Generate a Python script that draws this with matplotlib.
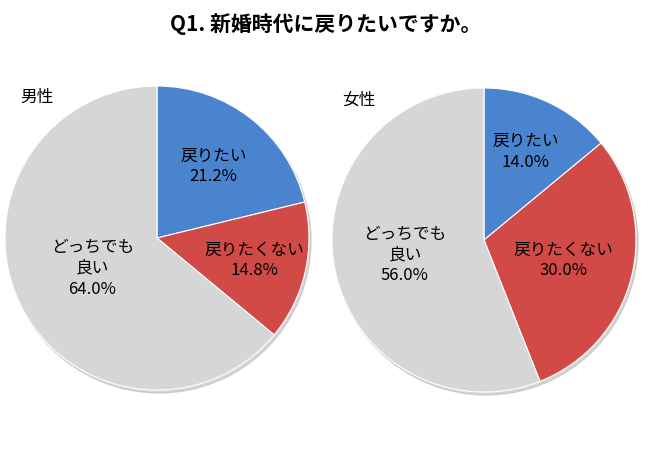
import matplotlib.pyplot as plt
import numpy as np
from matplotlib.patches import Circle

plt.rcParams['font.family'] = ['Noto Sans CJK JP', 'DejaVu Sans']

# データ
categories = ['戻りたい', '戻りたくない', 'どっちでも\n良い']
male = [21.2, 14.8, 64.0]
female = [14.0, 30.0, 56.0]
groups = ['男性', '女性']

colors = ['#4a84cf', '#d24a47', '#d6d6d6']

fig = plt.figure(figsize=(6.5, 4.7), dpi=100)
ax = fig.add_axes([0, 0, 1, 1])
ax.set_xlim(0, 650)
ax.set_ylim(0, 470)
ax.set_aspect('equal')
ax.axis('off')

ax.text(326, 446, 'Q1. 新婚時代に戻りたいですか。', ha='center', va='center',
        fontsize=15, fontweight='bold')

# 円グラフの位置と大きさ
centers = [(157, 232), (484, 230)]
radius = 152
label_r = [[0.60, 0.66, 0.47], [0.64, 0.54, 0.53]]
group_pos = [(37, 373), (359, 370)]

for k, vals in enumerate([male, female]):
    cx, cy = centers[k]
    # 影
    ax.add_patch(Circle((cx + 2, cy - 3), radius, color='#b0b0b0', alpha=0.5, zorder=1))
    wedges, _ = ax.pie(vals, colors=colors, startangle=90, counterclock=False,
                       center=(cx, cy), radius=radius,
                       wedgeprops=dict(edgecolor='white', linewidth=0.8, zorder=2))
    for i, w in enumerate(wedges):
        ang = np.deg2rad((w.theta1 + w.theta2) / 2)
        r = radius * label_r[k][i]
        x = cx + r * np.cos(ang)
        y = cy + r * np.sin(ang)
        ax.text(x, y, f'{categories[i]}\n{vals[i]:.1f}%', ha='center', va='center',
                fontsize=12, linespacing=1.3, zorder=3)
    ax.text(group_pos[k][0], group_pos[k][1], groups[k], ha='center', va='center',
            fontsize=12)

ax.set_xlim(0, 650)
ax.set_ylim(0, 470)

fig.savefig('out.png', dpi=100)
